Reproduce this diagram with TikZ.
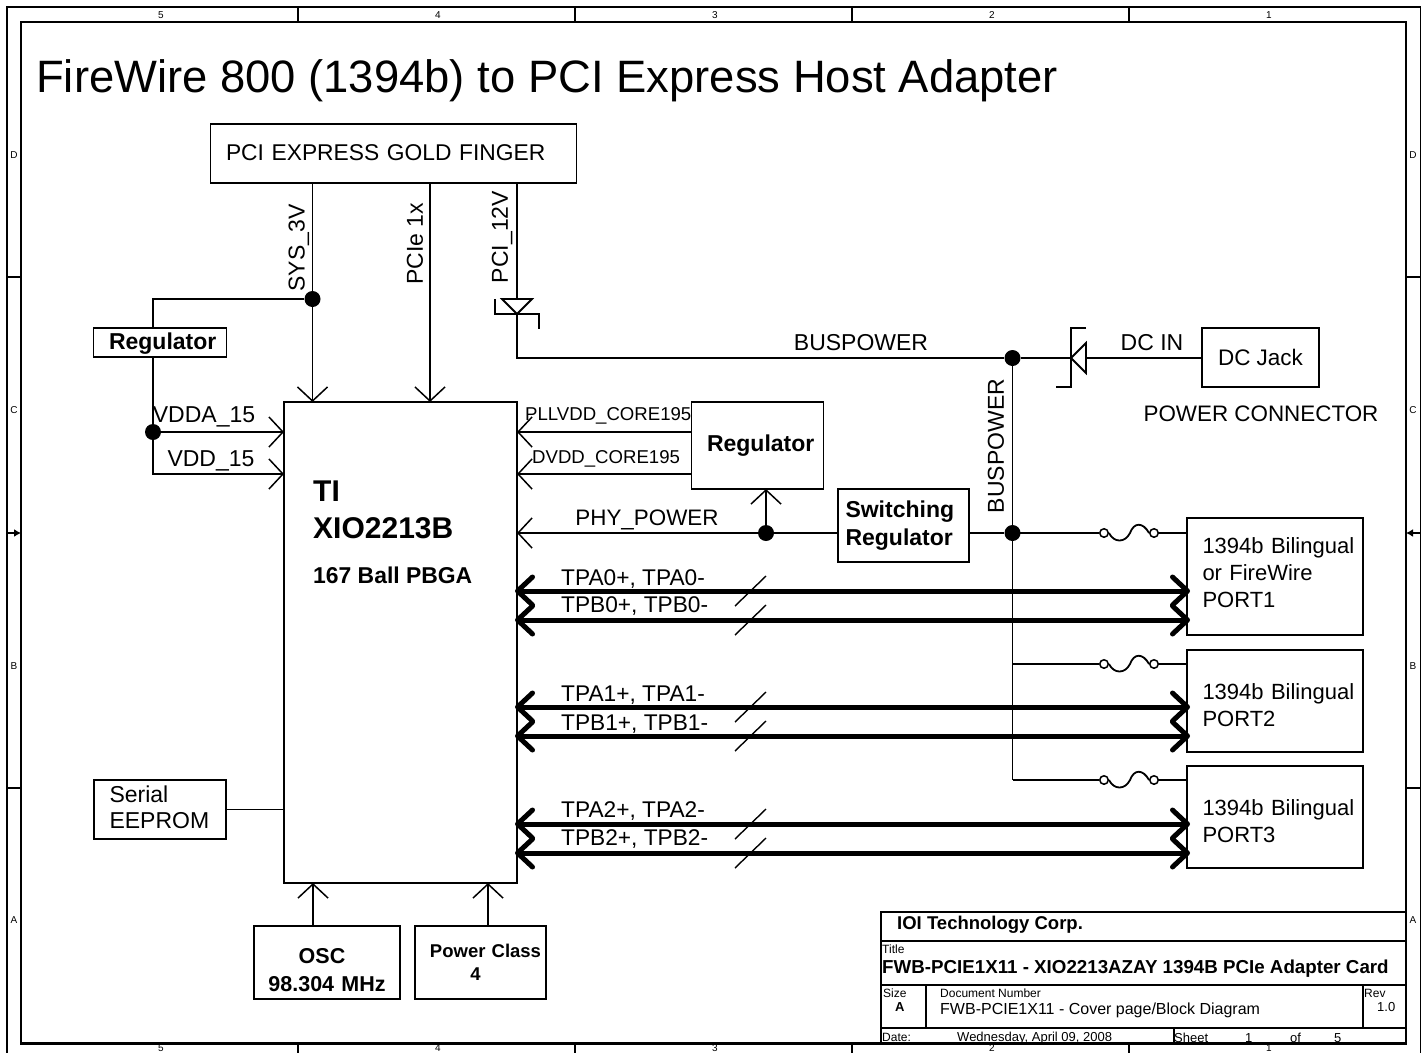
\documentclass[tikz,border=0pt]{standalone}
\usepackage{fontspec}
\setmainfont{Liberation Sans}
\usepackage{tikz}
\usetikzlibrary{arrows.meta,positioning}

\begin{document}
\begin{tikzpicture}[
    x=1pt, y=-1pt,
    fnt/.style={font=\fontsize{#1}{27}\selectfont},
    wire/.style={line width=1.8pt},
    arrow/.style={wire, -{Straight Barb[length=14pt,width=30pt,line width=1.5pt]}},
    bus/.style={line width=5pt, {Straight Barb[round,length=15pt,width=28pt,line width=5pt]}-{Straight Barb[round,length=15pt,width=28pt,line width=5pt]}, shorten <=-2pt, shorten >=-3pt},
    block/.style={draw, line width=1.8pt, outer sep=0pt, inner sep=0pt, align=center, fnt=23},
    lblock/.style={block, align=left, inner xsep=15.5pt},
    portbox/.style={lblock, fnt=22, minimum width=176pt, text width=145pt},
    bold/.style={font=\fontsize{23}{28}\selectfont\bfseries},
    txt/.style={inner sep=0pt, fnt=23},
    small/.style={inner sep=0pt, fnt=18.6},
    tiny/.style={inner sep=0pt, anchor=west, fnt=12},
    edgemark/.style={inner sep=0pt, fnt=10},
    dot/.style={circle, fill=black, inner sep=0pt, minimum size=16pt},
    contact/.style={circle, draw, fill=white, line width=1.5pt, inner sep=0pt, minimum size=8.5pt},
    tblock/.style={line width=2.2pt}
]
    \clip (0,0) rectangle (1426,1052);

    % sheet border
    \draw[wire] (7,7) rectangle (1420.5,1070);
    \draw[line width=2.2pt] (21,22) rectangle (1406,1043.5);
    \foreach \x in {298,575,852,1129} {
        \draw[wire] (\x,7) -- (\x,22);
        \draw[wire] (\x,1043.5) -- (\x,1060);
    }
    \foreach \y in {277,788} {
        \draw[wire] (7,\y) -- (21,\y);
        \draw[wire] (1406,\y) -- (1420.5,\y);
    }
    \draw[wire, -{Latex[length=7pt,width=8pt]}] (7,533) -- (21,533);
    \draw[wire, -{Latex[length=7pt,width=8pt]}] (1420.5,533) -- (1406,533);
    \foreach \n/\x in {5/161,4/438,3/715,2/992,1/1269} {
        \node[edgemark] (top\n) at (\x,15) {\n};
        \node[edgemark] (bot\n) at (\x,1047.8) {\n};
    }
    \foreach \n/\y in {D/155,C/410,B/666,A/920} {
        \node[edgemark] (lft\n) at (14,\y) {\n};
        \node[edgemark] (rgt\n) at (1413,\y) {\n};
    }

    \node[inner sep=0pt, anchor=west, fnt=45.4] (title) at (36,81) {FireWire 800 (1394b) to PCI Express Host Adapter};

    % blocks
    \node[lblock, fnt=22.8, minimum width=365pt, minimum height=59pt, text width=335pt] (pci) at (393.5,153.5) {PCI EXPRESS GOLD FINGER\vspace*{2pt}};
    \node[block, minimum width=233pt, minimum height=481pt] (xio) at (400.5,642.5) {};
    \node[lblock, bold, minimum width=132pt, minimum height=29pt, text width=102pt] (regl) at (160,342.5) {\mbox{Regulator}\vspace*{-2pt}};
    \node[lblock, bold, minimum width=131pt, minimum height=87pt, text width=101pt] (regr) at (757.5,445.5) {\mbox{Regulator}};
    \node[lblock, bold, inner xsep=7.5pt, minimum width=131pt, minimum height=73pt, text width=116pt] (swreg) at (903.5,525.5) {Switching\\Regulator};
    \node[block, fnt=22.5, minimum width=117pt, minimum height=59pt] (jack) at (1260.5,357.5) {DC Jack};
    \node[portbox, minimum height=117pt] (port1) at (1275,576.5) {\mbox{1394b Bilingual}\\or FireWire\\PORT1\vspace*{7pt}};
    \node[portbox, minimum height=102pt, below=15pt of port1] (port2) {\mbox{1394b Bilingual}\\PORT2\vspace*{-9pt}};
    \node[portbox, minimum height=102pt, below=14pt of port2] (port3) {\mbox{1394b Bilingual}\\PORT3\vspace*{-9pt}};
    \node[lblock, font=\fontsize{23}{26}\selectfont, minimum width=132pt, minimum height=59pt, text width=101pt] (eeprom) at (160,809.5) {Serial\\EEPROM\vspace*{5pt}};
    \node[block, font=\fontsize{21.5}{28}\selectfont\bfseries, minimum width=146pt, minimum height=73pt, text width=146pt] (osc) at (327,962.5) {\mbox{OSC\hspace{10pt}}\\98.304 MHz\vspace*{-15pt}};
    \node[block, font=\fontsize{18.5}{23}\selectfont\bfseries, minimum width=131pt, minimum height=73pt, text width=131pt] (pwr) at (480.5,962.5) {\mbox{\hspace{10pt}Power Class}\\\mbox{4\hspace{10pt}}};

    % chip text
    \node[inner sep=0pt, anchor=west, font=\fontsize{30}{32}\selectfont\bfseries] (chipa) at (313,491) {TI};
    \node[inner sep=0pt, anchor=west, font=\fontsize{30}{32}\selectfont\bfseries] (chipb) at (313,528) {XIO2213B};
    \node[inner sep=0pt, anchor=west, font=\fontsize{22.9}{24}\selectfont\bfseries] (chipc) at (313,575) {167 Ball PBGA};

    % junctions
    \node[dot] (sys) at (312.5,299) {};
    \node[dot] (vdda) at (153,432) {};
    \node[dot] (phy) at (766,533) {};
    \node[dot] (busa) at (1012.5,358) {};
    \node[dot] (busb) at (1012.5,533) {};

    % supply from the edge connector
    \coordinate (sysl) at (153,299);
    \coordinate (vdd) at (153,474);
    \draw[wire] (sys |- pci.south) -- (sys);
    \draw[arrow] (sys) -- (sys |- xio.north);
    \draw[wire] (sys) -- (sysl) -- (sysl |- regl.north);
    \draw[wire] (sysl |- regl.south) -- (vdda);
    \draw[arrow] (vdda) -- (vdda -| xio.west);
    \draw[arrow] (vdda) -- (vdd) -- (vdd -| xio.west);
    \draw[arrow] (430,183) -- (430,402);
    \node[txt, rotate=90] (lsys) at (299,248) {SYS\_3V};
    \node[txt, rotate=90] (lpcie) at (415,244) {PCIe 1x};
    \node[txt, rotate=90] (l12v) at (502,237) {PCI\_12V};
    \node[txt] (lvdda) at (204,417) {VDDA\_15};
    \node[txt] (lvdd) at (211,461) {VDD\_15};

    % diodes
    \coordinate (da) at (517,314);
    \coordinate (db) at (1071,358);
    \draw[wire] (da |- pci.south) -- (517,299);
    \draw[wire] (502,299) -- (532,299) -- (da) -- cycle;
    \draw[wire] (495,299) -- (495,314) -- (539,314) -- (539,329);
    \draw[wire] (da) -- (517,358) -- (busa);
    \draw[wire] (busa) -- (db);
    \draw[wire] (1086,343) -- (1086,373) -- (db) -- cycle;
    \draw[wire] (1086,328) -- (1071,328) -- (1071,387) -- (1056,387);
    \draw[wire] (1086,358) -- (jack.west |- db);
    \node[txt] (lbus) at (861,343) {BUSPOWER};
    \node[txt] (ldc) at (1152,343) {DC IN};
    \node[txt, fnt=22.4] (lconn) at (1261,414) {POWER CONNECTOR};
    \node[txt, rotate=90] (lbusv) at (996,446) {BUSPOWER};

    % core regulators
    \draw[arrow] (regr.west |- 0,432) -- (xio.east |- 0,432);
    \draw[arrow] (regr.west |- 0,474) -- (xio.east |- 0,474);
    \draw[wire] (swreg.west |- phy) -- (phy);
    \draw[arrow] (phy) -- (xio.east |- phy);
    \draw[arrow] (phy) -- (phy |- regr.south);
    \draw[wire] (swreg.east |- busb) -- (busb);
    \node[small, anchor=west] (lpll) at (525,416) {PLLVDD\_CORE195};
    \node[small, anchor=west] (ldvdd) at (532,459) {DVDD\_CORE195};
    \node[txt, fnt=22.4] (lphy) at (647,520) {PHY\_POWER};

    % fused port power
    \draw[wire] (busa) -- (busb) -- (1012.5,780);
    \foreach \i/\y in {1/533,2/664,3/780} {
        \node[contact] (fa\i) at (1104,\y) {};
        \node[contact] (fb\i) at (1154,\y) {};
        \draw[wire] (1012.5,\y) -- (fa\i.west);
        \draw[wire] (fa\i.east) .. controls +(5,10) and +(-5,10) .. ++(21,0) .. controls +(4,-11) and +(-6,-11) .. (fb\i.west);
        \draw[wire] (fb\i.east) -- (port\i.west |- fb\i);
    }

    % serial buses
    \foreach \i/\p/\ya/\yb/\ta/\tb in {0/1/591/620/579/606,1/2/707/736/695/724,2/3/824/853/811/839} {
        \draw[bus] (xio.east |- 0,\ya) -- (port\p.west |- 0,\ya);
        \draw[bus] (xio.east |- 0,\yb) -- (port\p.west |- 0,\yb);
        \draw[line width=1.4pt] (735,\ya+15) -- (766,\ya-15);
        \draw[line width=1.4pt] (735,\yb+15) -- (766,\yb-15);
        \node[small, fnt=22.7, anchor=west] (lta\i) at (561,\ta) {TPA\i+, TPA\i-};
        \node[small, fnt=22.7, anchor=west] (ltb\i) at (561,\tb) {TPB\i+, TPB\i-};
    }

    % the rest of the chip
    \draw[wire] (eeprom.east) -- (eeprom.east -| xio.west);
    \draw[arrow] (313,926) -- (313,883);
    \draw[arrow] (488,926) -- (488,883);

    % title block
    \node[draw, tblock, fill=white, minimum width=525pt, minimum height=131pt, inner sep=0pt, outer sep=0pt] (tb) at (1143.5,977.5) {};
    \draw[tblock] (881,941) -- (1406,941);
    \draw[tblock] (881,985) -- (1406,985);
    \draw[tblock] (881,1028) -- (1406,1028);
    \draw[tblock] (926,985) -- (926,1028);
    \draw[tblock] (1363,985) -- (1363,1028);
    \draw[tblock] (1174,1028) -- (1174,1043);
    \node[inner sep=0pt, anchor=west, font=\fontsize{18.5}{22}\selectfont\bfseries] (tcorp) at (897,925) {IOI Technology Corp.};
    \node[tiny] (ttl) at (882,949) {Title};
    \node[inner sep=0pt, anchor=west, font=\fontsize{18.74}{22}\selectfont\bfseries] (tname) at (882,969) {FWB-PCIE1X11 - XIO2213AZAY 1394B PCIe Adapter Card};
    \node[tiny] (tsz) at (883,993) {Size};
    \node[tiny, font=\fontsize{13}{15}\selectfont\bfseries] (tszv) at (895,1007) {A};
    \node[tiny] (tdoc) at (940,993) {Document Number};
    \node[tiny, fnt=16] (tdocv) at (940,1010) {FWB-PCIE1X11 - Cover page/Block Diagram};
    \node[tiny] (trev) at (1364,993) {Rev};
    \node[tiny, fnt=13] (trevv) at (1377,1007) {1.0};
    \node[tiny] (tdate) at (882,1037) {Date:};
    \node[tiny, fnt=13] (tdatev) at (957,1038) {Wednesday, April 09, 2008};
    \node[tiny, fnt=13] (tsheet) at (1174,1038) {Sheet};
    \node[tiny, fnt=13] (tsh1) at (1245,1038) {1};
    \node[tiny, fnt=13] (tof) at (1290,1038) {of};
    \node[tiny, fnt=13] (tsh5) at (1334,1038) {5};
\end{tikzpicture}
\end{document}
